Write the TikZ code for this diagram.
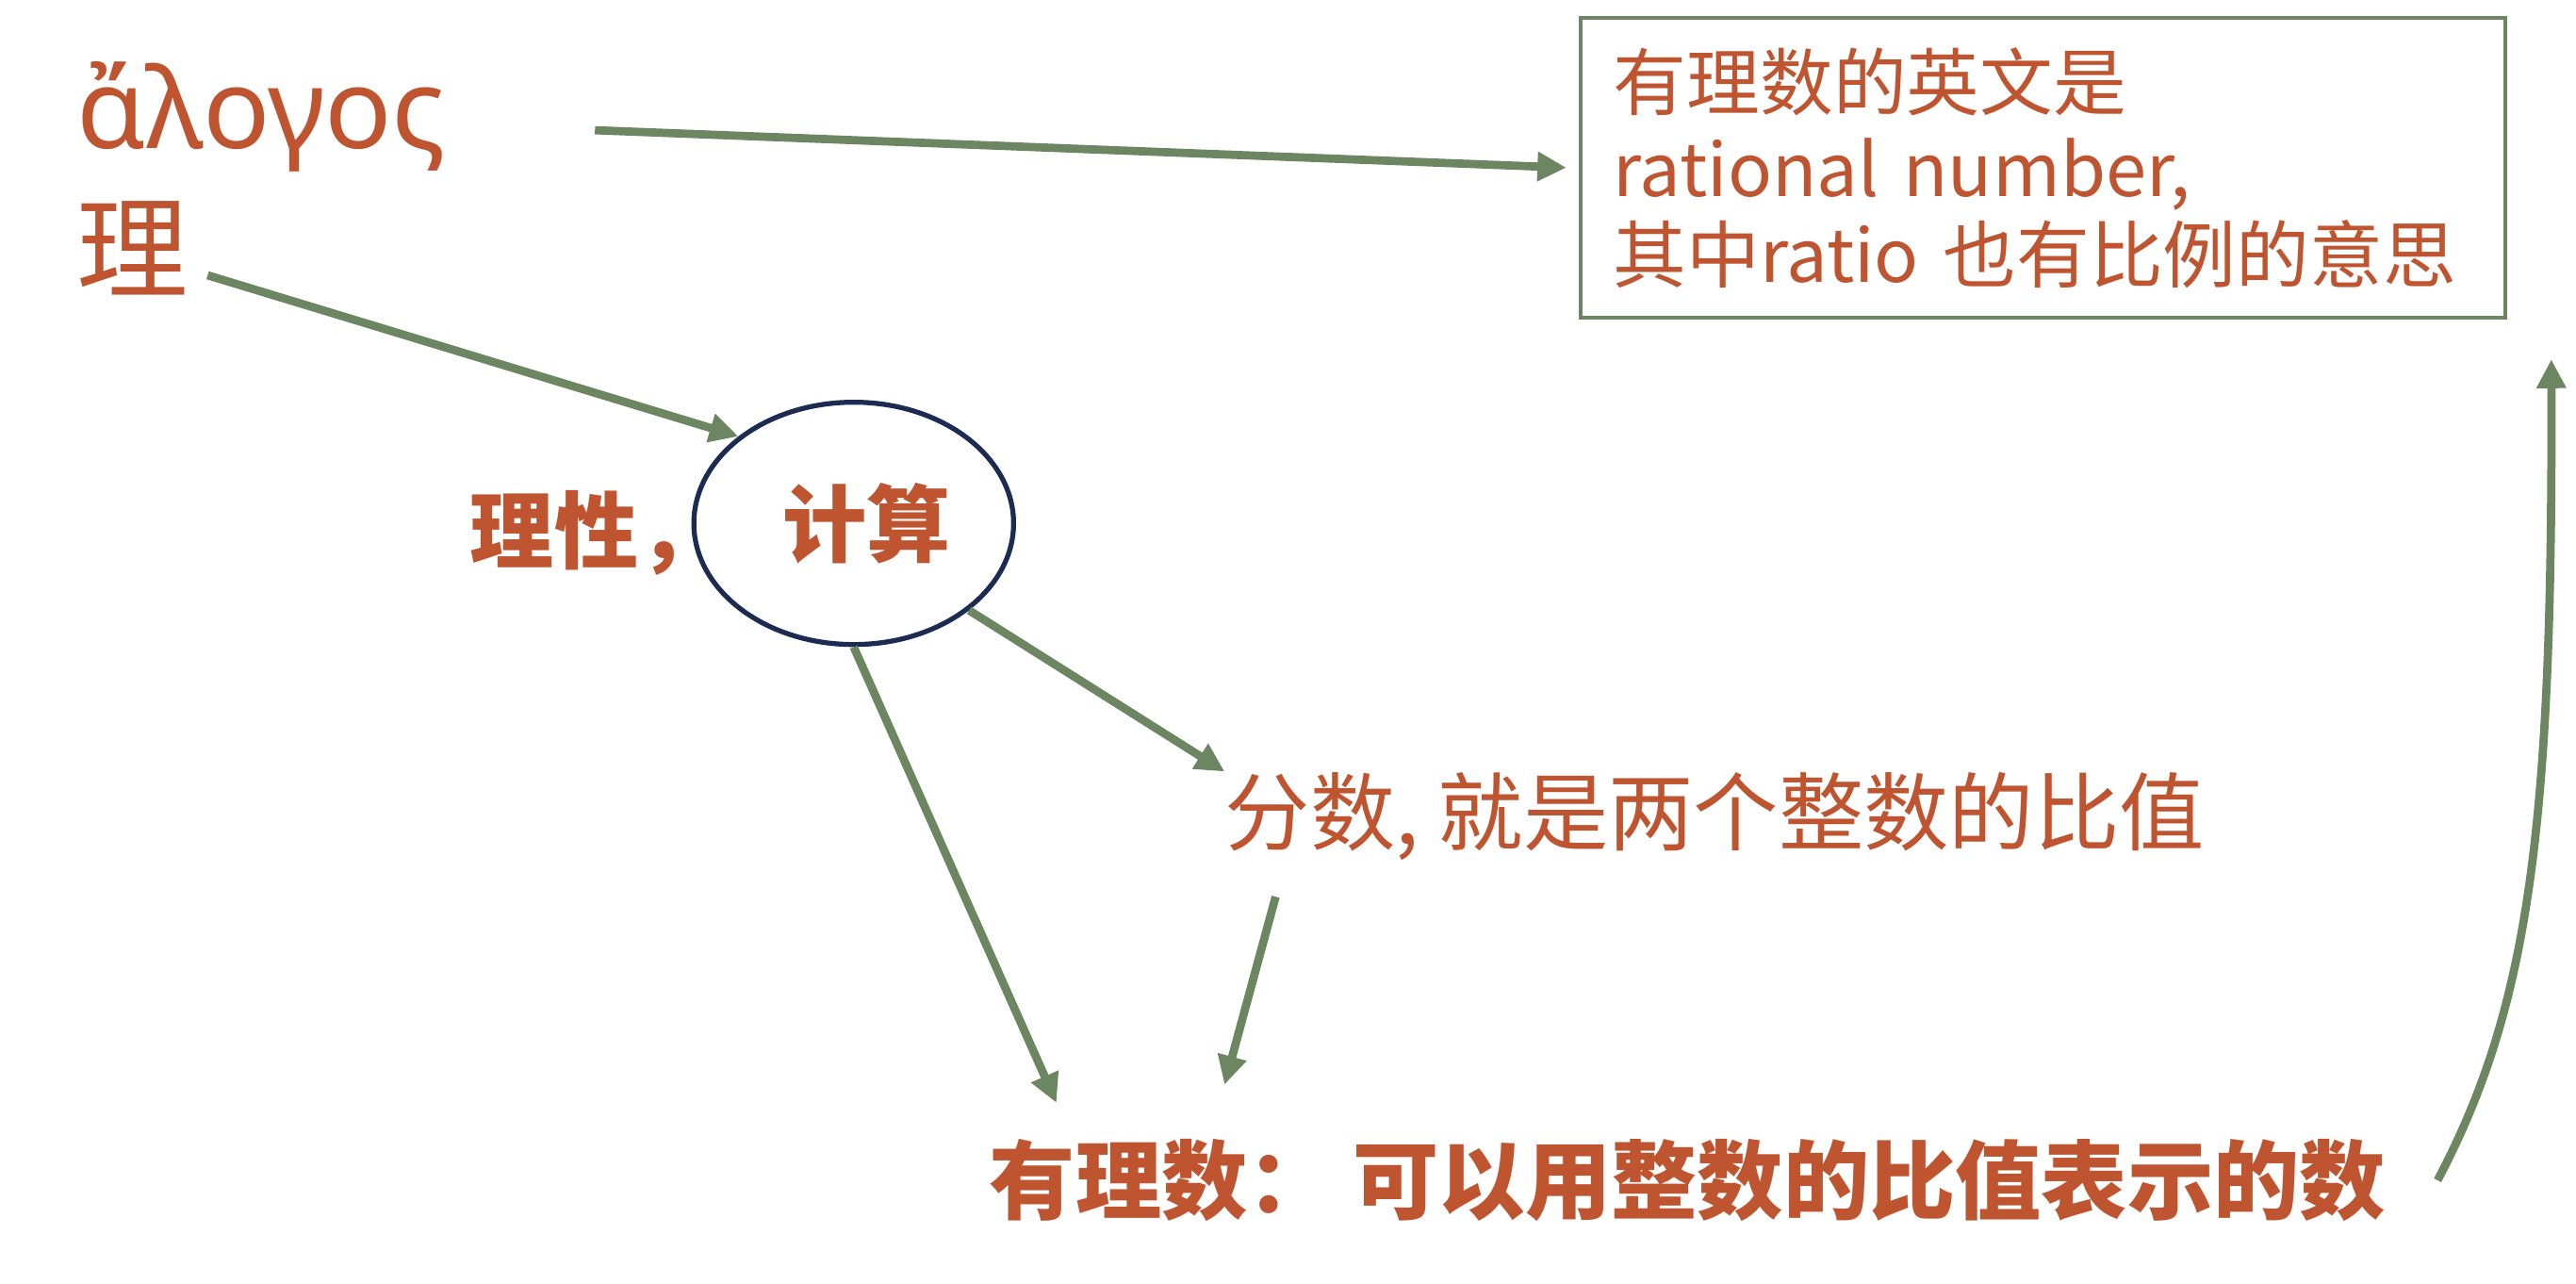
\documentclass[tikz,border=0pt]{standalone}
\usepackage{fontspec}
\usetikzlibrary{shapes.geometric,arrows.meta}
\newfontfamily\cjk{Noto Sans CJK SC}
\newfontfamily\greekfont{Noto Sans}
\definecolor{txt}{HTML}{BF5530}
\definecolor{arr}{HTML}{6B8660}
\definecolor{navy}{HTML}{1C2B52}
\tikzset{
  lbl/.style={inner sep=0pt, text=txt, anchor=base west},
  conn/.style={draw=arr, line width=1.0mm, -{Triangle[length=3.5mm,width=3.4mm]}},
  infobox/.style={draw=arr, line width=0.46mm, minimum height=36.4mm, text width=104.2mm,
    inner xsep=4mm, inner ysep=0pt, align=left, text=txt,
    font={\cjk\fontsize{25.3pt}{29.8pt}\selectfont}},
  oval/.style={ellipse, draw=navy, line width=0.6mm, minimum width=38.8mm, minimum height=29.4mm,
    inner sep=0pt, text=txt, font={\cjk\bfseries\fontsize{29pt}{34pt}\selectfont}}
}
\begin{document}
\begin{tikzpicture}[x=0.2mm,y=-0.2mm]
\useasboundingbox (0,0) rectangle (1563,778.9);
% texts
\node[lbl, font={\greekfont\fontsize{38.5pt}{46pt}\selectfont}] (greek) at (46,90) {ἄλογος};
\node[lbl, font={\cjk\fontsize{38.5pt}{46pt}\selectfont}] (li) at (46,176) {理};
\node[infobox] (box) at (1239.5,102) {有理数的英文是\\rational number,\\其中ratio 也有比例的意思};
\node[oval] (calc) at (518,317.5) {\kern3.2mm计算};
\node[lbl, font={\cjk\bfseries\fontsize{29pt}{34pt}\selectfont}] (reason) at (285,341) {理性，};
\node[lbl, font={\cjk\fontsize{29.4pt}{34pt}\selectfont}] (frac) at (743,512) {分数, 就是两个整数的比值};
\node[lbl, font={\cjk\bfseries\fontsize{29.7pt}{34pt}\selectfont}] (rat) at (600,736) {有理数： 可以用整数的比值表示的数};
% free connector ends
\coordinate (s1) at (361,79);
\coordinate (s2) at (126,167);
\coordinate (e4) at (641,669);
\coordinate (s5) at (774,544);
\coordinate (e5) at (743,658);
\coordinate (s6) at (1479,716);
\coordinate (e6) at (1548,218);
% connectors
\draw[conn, shorten >=1.5mm] (s1) -- (box.west);
\draw[conn] (s2) -- (calc.143);
\draw[conn] (calc.-37) -- (frac.north west);
\draw[conn] (calc.south) -- (e4);
\draw[conn] (s5) -- (e5);
\draw[conn] (s6) .. controls (1535,610) and (1549,500) .. (e6);
\end{tikzpicture}
\end{document}
